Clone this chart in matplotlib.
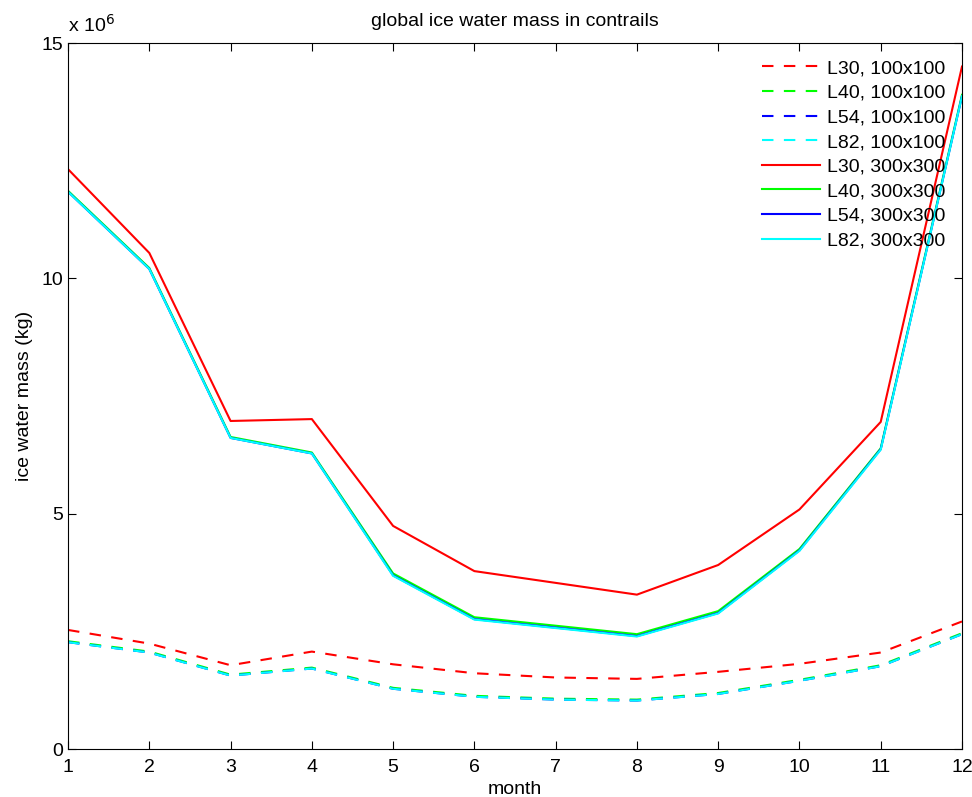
import numpy as np
import matplotlib
matplotlib.use("Agg")
import matplotlib.pyplot as plt

plt.rcParams['font.family'] = ['Liberation Sans', 'DejaVu Sans']

months = np.arange(1, 13)

# ice water mass, units of 1e6 kg
l30_100 = [2.53, 2.24, 1.78, 2.07, 1.80, 1.61, 1.52, 1.49, 1.64, 1.81, 2.05, 2.71]
l40_100 = [2.29, 2.07, 1.58, 1.73, 1.30, 1.13, 1.07, 1.05, 1.19, 1.47, 1.78, 2.46]
l54_100 = [2.27, 2.05, 1.56, 1.71, 1.28, 1.11, 1.05, 1.03, 1.17, 1.45, 1.76, 2.44]
l82_100 = [2.27, 2.05, 1.56, 1.71, 1.28, 1.11, 1.05, 1.03, 1.17, 1.45, 1.76, 2.44]
l30_300 = [12.32, 10.54, 6.97, 7.01, 4.74, 3.78, 3.53, 3.28, 3.91, 5.09, 6.95, 14.50]
l40_300 = [11.86, 10.22, 6.63, 6.30, 3.73, 2.80, 2.62, 2.44, 2.93, 4.25, 6.39, 13.90]
l54_300 = [11.84, 10.20, 6.61, 6.28, 3.69, 2.76, 2.58, 2.40, 2.89, 4.22, 6.37, 13.87]
l82_300 = [11.84, 10.20, 6.61, 6.28, 3.68, 2.75, 2.57, 2.39, 2.88, 4.21, 6.36, 13.87]

labels = ['L30, 100x100', 'L40, 100x100', 'L54, 100x100', 'L82, 100x100',
          'L30, 300x300', 'L40, 300x300', 'L54, 300x300', 'L82, 300x300']
colors = ['#ff0000', '#00ff00', '#0000ff', '#00ffff']

fig = plt.figure(figsize=(9.72, 7.97), dpi=100)
ax = fig.add_axes([0.07, 0.0602, 0.9197, 0.8858])

series = [l30_100, l40_100, l54_100, l82_100, l30_300, l40_300, l54_300, l82_300]
for i, s in enumerate(series):
    ls = (0, (5.5, 5)) if i < 4 else '-'
    ax.plot(months, np.array(s) * 1e6, color=colors[i % 4], linestyle=ls,
            linewidth=1.5, label=labels[i])

ax.set_xlim(1, 12)
ax.set_ylim(0, 15e6)
ax.set_xticks(months)
ax.set_yticks([0, 5e6, 10e6, 15e6])
ax.set_yticklabels(['0', '5', '10', '15'])
ax.tick_params(direction='in', top=True, right=True, labelsize=14, length=6)
ax.tick_params(axis='x', pad=7)
ax.text(0.0, 1.01, r'x 10$^6$', transform=ax.transAxes, fontsize=14, va='bottom')

ax.set_xlabel('month', fontsize=14, labelpad=4)
ax.set_ylabel('ice water mass (kg)', fontsize=14, labelpad=6)
ax.set_title('global ice water mass in contrails', fontsize=14, pad=12)

leg = ax.legend(loc='upper right', frameon=False, fontsize=14,
                handlelength=3.0, handletextpad=0.35, labelspacing=0.36,
                borderaxespad=0.45)

fig.savefig('out.png', dpi=100)
